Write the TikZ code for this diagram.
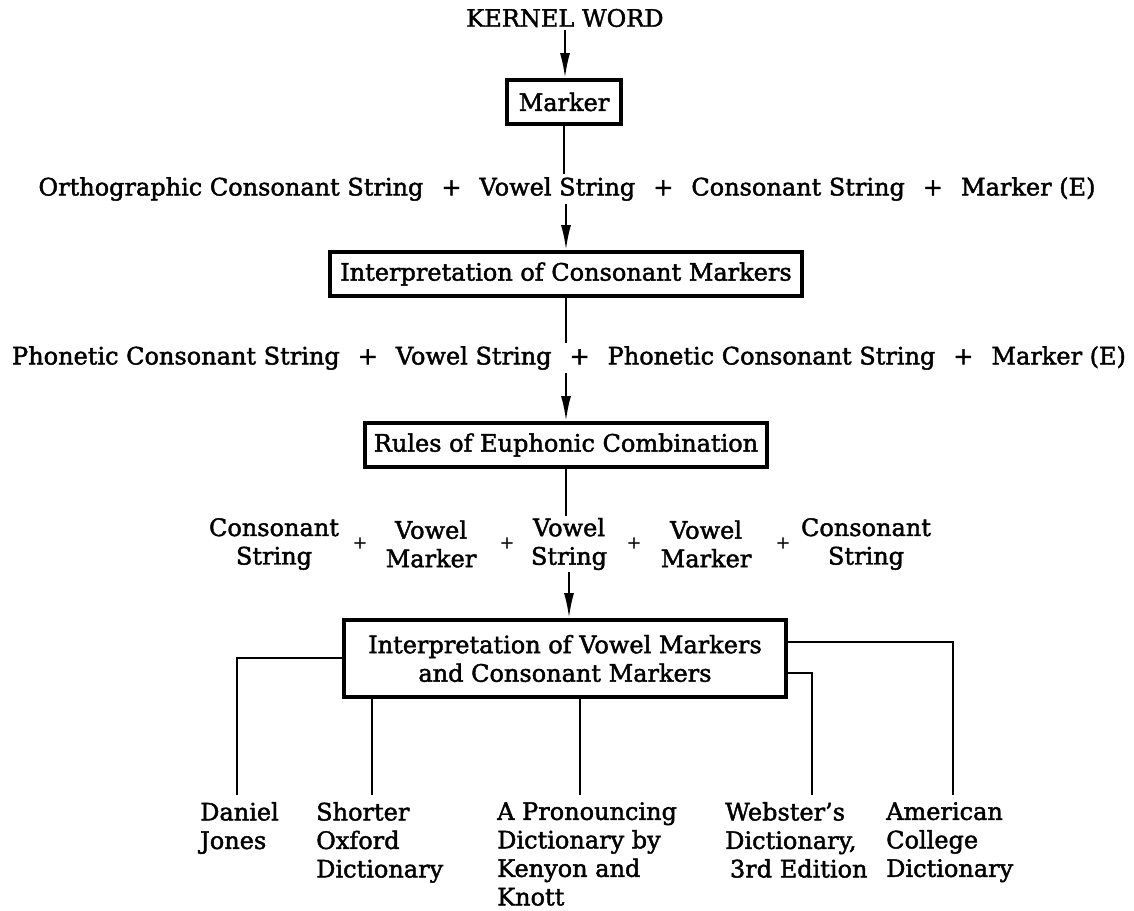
\documentclass[tikz,border=0pt]{standalone}
\usepackage{fontspec}
\setmainfont{DejaVu Serif}[FakeBold=1.8]
\usetikzlibrary{arrows.meta}
\newcommand\pl{\hspace{0.75em}+\hspace{0.75em}}
\begin{document}
\begin{tikzpicture}[x=1pt,y=-1pt,
  every node/.style={font=\fontsize{24}{28.5}\selectfont, inner sep=3pt},
  box/.style={draw, line width=3.8pt, minimum height=44pt, inner ysep=0pt},
  conn/.style={line width=2.2pt},
  arr/.style={line width=2.2pt, -{Latex[length=25pt,width=10pt]}},
  lbl/.style={align=left, anchor=north west, inner sep=0pt},
  col/.style={align=center, inner sep=2pt},
  plus/.style={font=\fontsize{17}{20}\selectfont, inner sep=1pt},
]
\useasboundingbox (0,0) rectangle (1134,910);

\node (kernel) at (565,18) {KERNEL WORD};
\node[box, inner xsep=12pt] (marker) at (564,102) {Marker};
\node (ortho) at (567,189) {Orthographic Consonant String\pl Vowel String\pl Consonant String\pl Marker (E)};
\node[box, inner xsep=10pt] (cons) at (566,274) {Interpretation of Consonant Markers};
\node (phon) at (569,358) {Phonetic Consonant String\pl Vowel String\pl Phonetic Consonant String\pl Marker (E)};
\node[box, inner xsep=9pt] (rules) at (566,445) {Rules of Euphonic Combination};

\node[col] (c1) at (274,544) {Consonant\\String};
\node[plus] (p1) at (360,543) {+};
\node[col] (v1) at (431,544) {Vowel\\Marker};
\node[plus] (p2) at (507,543) {+};
\node[col] (vs) at (569,544) {Vowel\\String};
\node[plus] (p3) at (634,543) {+};
\node[col] (v2) at (706,544) {Vowel\\Marker};
\node[plus] (p4) at (783,543) {+};
\node[col] (c2) at (866,544) {Consonant\\String};

\node[box, minimum width=442pt, minimum height=77pt, align=center] (interp) at (565,658.5) {Interpretation of Vowel Markers\\and Consonant Markers};

\node[lbl] (dj) at (200,802) {Daniel\\Jones};
\node[lbl] (so) at (316,802) {Shorter\\Oxford\\Dictionary};
\node[lbl] (kk) at (497,802) {A Pronouncing\\Dictionary by\\Kenyon and\\Knott};
\node[lbl] (wd) at (725,802) {Webster's\\Dictionary,\\\hspace{0.2em}3rd Edition};
\node[lbl] (ac) at (886,802) {American\\College\\Dictionary};

\coordinate (djend) at (237,795);
\coordinate (soend) at (372,795);
\coordinate (kkend) at (580,795);
\coordinate (wdend) at (812,795);
\coordinate (acend) at (953,795);

\draw[arr] (kernel.south) -- (kernel.south |- marker.north);
\draw[conn] (marker.south) -- (marker.south |- ortho.north);
\draw[arr] (cons.north |- ortho.south) -- (cons.north);
\draw[conn] (cons.south) -- (cons.south |- phon.north);
\draw[arr] (rules.north |- phon.south) -- (rules.north);
\draw[conn] (rules.south) -- (rules.south |- vs.north);
\draw[arr] (vs.south) -- (vs.south |- interp.north);

\draw[conn] (interp.west |- 0,658) -| (djend);
\draw[conn] (interp.south -| soend) -- (soend);
\draw[conn] (interp.south -| kkend) -- (kkend);
\draw[conn] (interp.east |- 0,673) -| (wdend);
\draw[conn] (interp.east |- 0,642) -| (acend);
\end{tikzpicture}
\end{document}
